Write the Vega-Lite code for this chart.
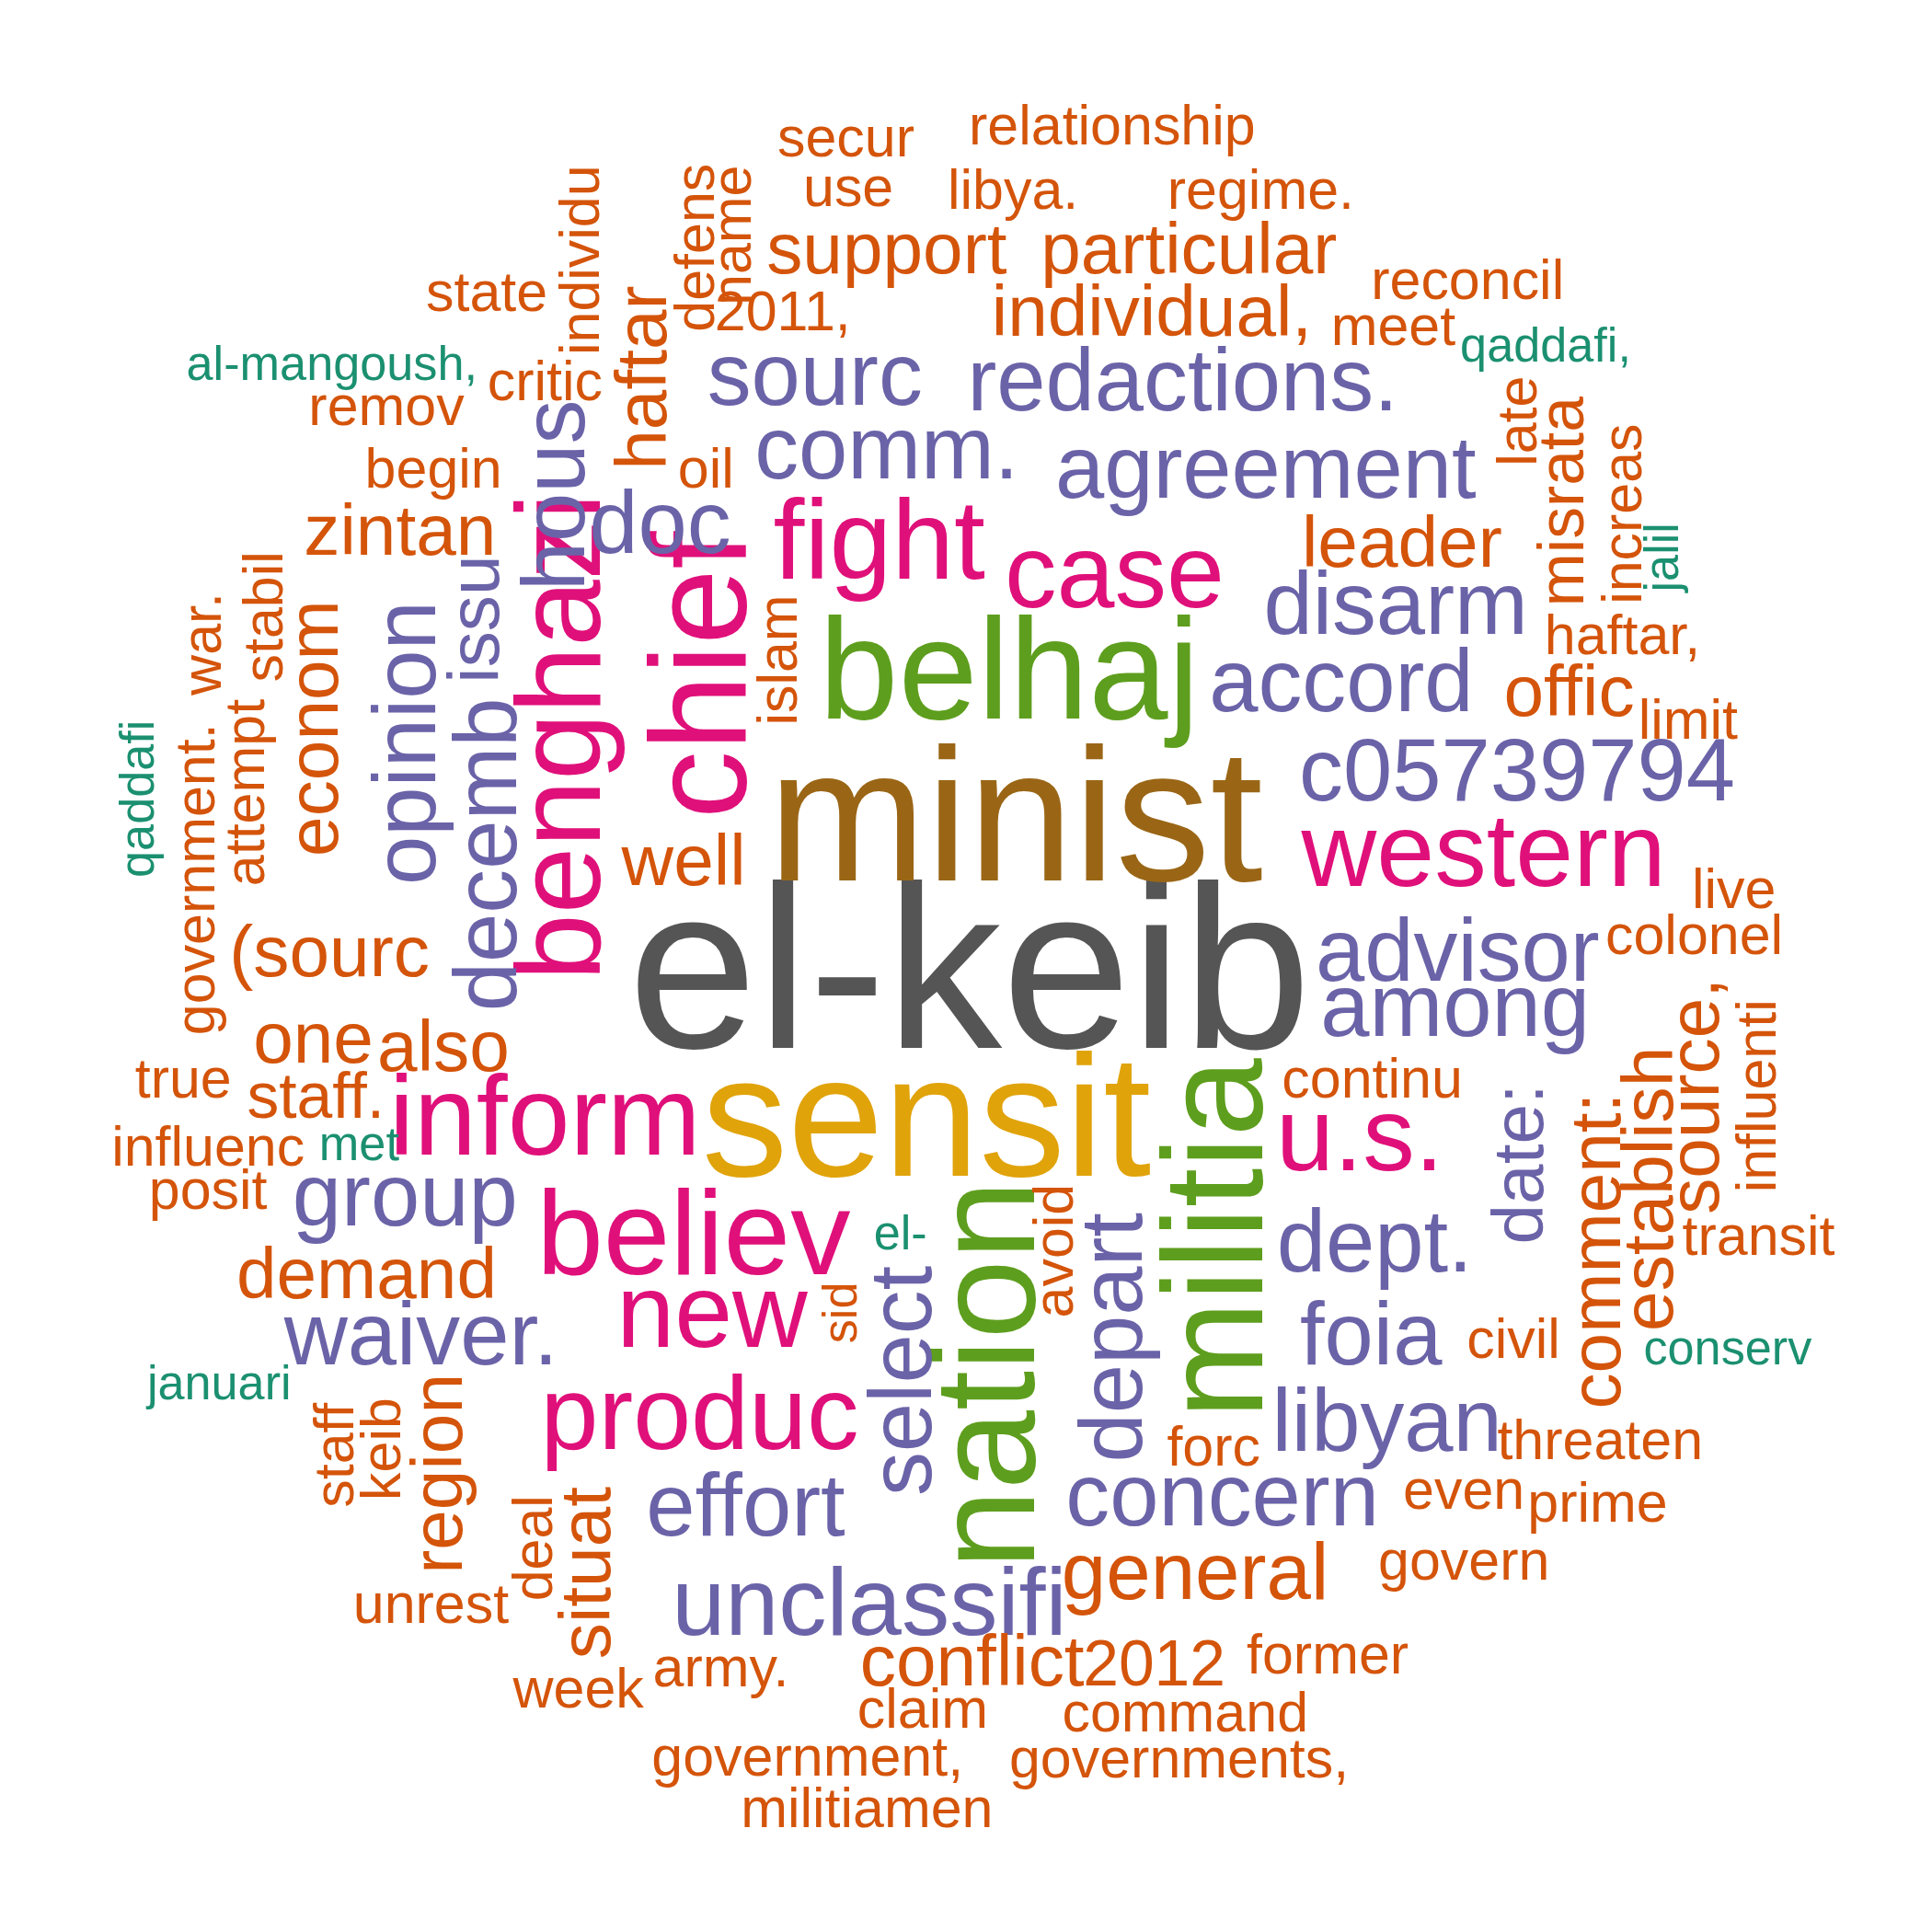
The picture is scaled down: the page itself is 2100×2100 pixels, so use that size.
{
  "$schema": "https://vega.github.io/schema/vega-lite/v6.json",
  "description": "Word cloud",
  "autosize": {"type": "fit", "contains": "padding"},
  "width": 2100,
  "height": 2100,
  "padding": 0,
  "background": "white",
  "config": {"view": {"stroke": null}},
  "data": {"values": [
    {"w":"el-keib","x":783,"y":790,"n":185,"g":"a","v":0},
    {"w":"minist","x":820,"y":665,"n":150,"g":"b","v":0},
    {"w":"sensit","x":748,"y":908,"n":120,"g":"c","v":0},
    {"w":"belhaj","x":815,"y":545,"n":105,"g":"d","v":0},
    {"w":"nation","x":800,"y":1110,"n":105,"g":"d","v":1},
    {"w":"militia","x":985,"y":1000,"n":100,"g":"d","v":1},
    {"w":"chief","x":570,"y":545,"n":85,"g":"e","v":1},
    {"w":"benghazi","x":455,"y":595,"n":75,"g":"e","v":1},
    {"w":"fight","x":710,"y":440,"n":70,"g":"e","v":0},
    {"w":"case","x":900,"y":465,"n":65,"g":"e","v":0},
    {"w":"western","x":1198,"y":690,"n":65,"g":"e","v":0},
    {"w":"inform","x":440,"y":905,"n":70,"g":"e","v":0},
    {"w":"believ","x":560,"y":1000,"n":75,"g":"e","v":0},
    {"w":"new","x":575,"y":1062,"n":65,"g":"e","v":0},
    {"w":"produc","x":565,"y":1145,"n":65,"g":"e","v":0},
    {"w":"u.s.","x":1098,"y":920,"n":65,"g":"e","v":0},
    {"w":"sourc","x":658,"y":305,"n":55,"g":"f","v":0},
    {"w":"redactions.","x":955,"y":310,"n":55,"g":"f","v":0},
    {"w":"comm.","x":716,"y":365,"n":55,"g":"f","v":0},
    {"w":"agreement","x":1022,"y":380,"n":55,"g":"f","v":0},
    {"w":"doc","x":533,"y":425,"n":55,"g":"f","v":0},
    {"w":"hous","x":450,"y":400,"n":55,"g":"f","v":1},
    {"w":"disarm","x":1127,"y":490,"n":55,"g":"f","v":0},
    {"w":"accord","x":1083,"y":553,"n":55,"g":"f","v":0},
    {"w":"c05739794","x":1225,"y":625,"n":55,"g":"f","v":0},
    {"w":"advisor","x":1177,"y":770,"n":55,"g":"f","v":0},
    {"w":"among","x":1175,"y":815,"n":55,"g":"f","v":0},
    {"w":"opinion","x":330,"y":600,"n":55,"g":"f","v":1},
    {"w":"decemb","x":395,"y":690,"n":55,"g":"f","v":1},
    {"w":"issu","x":385,"y":500,"n":45,"g":"f","v":1},
    {"w":"group","x":327,"y":968,"n":55,"g":"f","v":0},
    {"w":"waiver.","x":340,"y":1080,"n":55,"g":"f","v":0},
    {"w":"select","x":730,"y":1115,"n":55,"g":"f","v":1},
    {"w":"depart","x":900,"y":1080,"n":55,"g":"f","v":1},
    {"w":"dept.","x":1110,"y":1005,"n":55,"g":"f","v":0},
    {"w":"foia","x":1107,"y":1080,"n":55,"g":"f","v":0},
    {"w":"libyan","x":1120,"y":1150,"n":55,"g":"f","v":0},
    {"w":"concern","x":987,"y":1210,"n":55,"g":"f","v":0},
    {"w":"effort","x":602,"y":1218,"n":55,"g":"f","v":0},
    {"w":"unclassifi","x":702,"y":1297,"n":60,"g":"f","v":0},
    {"w":"date:","x":1228,"y":940,"n":45,"g":"f","v":1},
    {"w":"support","x":716,"y":203,"n":45,"g":"o","v":0},
    {"w":"particular","x":960,"y":203,"n":45,"g":"o","v":0},
    {"w":"individual,","x":930,"y":253,"n":45,"g":"o","v":0},
    {"w":"secur","x":683,"y":113,"n":35,"g":"o","v":0},
    {"w":"use","x":685,"y":153,"n":35,"g":"o","v":0},
    {"w":"relationship","x":898,"y":103,"n":35,"g":"o","v":0},
    {"w":"libya.","x":818,"y":155,"n":35,"g":"o","v":0},
    {"w":"regime.","x":1018,"y":155,"n":35,"g":"o","v":0},
    {"w":"state","x":393,"y":238,"n":35,"g":"o","v":0},
    {"w":"individu","x":470,"y":210,"n":35,"g":"o","v":1},
    {"w":"defens","x":563,"y":200,"n":35,"g":"o","v":1},
    {"w":"name","x":593,"y":190,"n":35,"g":"o","v":1},
    {"w":"2011,","x":632,"y":253,"n":35,"g":"o","v":0},
    {"w":"reconcil","x":1185,"y":228,"n":35,"g":"o","v":0},
    {"w":"meet","x":1125,"y":265,"n":35,"g":"o","v":0},
    {"w":"critic","x":440,"y":310,"n":35,"g":"o","v":0},
    {"w":"remov","x":312,"y":330,"n":35,"g":"o","v":0},
    {"w":"begin","x":350,"y":380,"n":35,"g":"o","v":0},
    {"w":"oil","x":570,"y":380,"n":35,"g":"o","v":0},
    {"w":"haftar","x":520,"y":305,"n":45,"g":"o","v":1},
    {"w":"zintan","x":323,"y":430,"n":45,"g":"o","v":0},
    {"w":"leader","x":1132,"y":440,"n":45,"g":"o","v":0},
    {"w":"econom","x":255,"y":588,"n":45,"g":"o","v":1},
    {"w":"offic","x":1267,"y":560,"n":45,"g":"o","v":0},
    {"w":"haftar,","x":1310,"y":515,"n":35,"g":"o","v":0},
    {"w":"war.","x":165,"y":520,"n":35,"g":"o","v":1},
    {"w":"stabil","x":215,"y":498,"n":35,"g":"o","v":1},
    {"w":"attempt","x":200,"y":640,"n":35,"g":"o","v":1},
    {"w":"islam","x":630,"y":533,"n":35,"g":"o","v":1},
    {"w":"well","x":552,"y":697,"n":45,"g":"o","v":0},
    {"w":"(sourc","x":266,"y":770,"n":45,"g":"o","v":0},
    {"w":"one","x":253,"y":840,"n":45,"g":"o","v":0},
    {"w":"also","x":358,"y":847,"n":45,"g":"o","v":0},
    {"w":"staff.","x":255,"y":887,"n":40,"g":"o","v":0},
    {"w":"true","x":148,"y":873,"n":35,"g":"o","v":0},
    {"w":"influenc","x":168,"y":928,"n":35,"g":"o","v":0},
    {"w":"posit","x":168,"y":963,"n":35,"g":"o","v":0},
    {"w":"demand","x":296,"y":1030,"n":45,"g":"o","v":0},
    {"w":"government.","x":160,"y":710,"n":35,"g":"o","v":1},
    {"w":"continu","x":1108,"y":873,"n":35,"g":"o","v":0},
    {"w":"limit","x":1363,"y":583,"n":35,"g":"o","v":0},
    {"w":"live","x":1400,"y":720,"n":35,"g":"o","v":0},
    {"w":"colonel","x":1368,"y":757,"n":35,"g":"o","v":0},
    {"w":"misrata","x":1263,"y":405,"n":40,"g":"o","v":1},
    {"w":"late","x":1227,"y":340,"n":35,"g":"o","v":1},
    {"w":"increas","x":1312,"y":415,"n":35,"g":"o","v":1},
    {"w":"source,","x":1370,"y":885,"n":45,"g":"o","v":1},
    {"w":"establish","x":1333,"y":960,"n":45,"g":"o","v":1},
    {"w":"comment:","x":1290,"y":1010,"n":45,"g":"o","v":1},
    {"w":"influenti","x":1420,"y":885,"n":35,"g":"o","v":1},
    {"w":"transit","x":1420,"y":1000,"n":35,"g":"o","v":0},
    {"w":"civil","x":1222,"y":1083,"n":35,"g":"o","v":0},
    {"w":"avoid","x":853,"y":1010,"n":35,"g":"o","v":1},
    {"w":"sid","x":680,"y":1060,"n":30,"g":"o","v":1},
    {"w":"threaten","x":1292,"y":1165,"n":35,"g":"o","v":0},
    {"w":"even","x":1182,"y":1205,"n":35,"g":"o","v":0},
    {"w":"prime","x":1290,"y":1215,"n":35,"g":"o","v":0},
    {"w":"govern","x":1182,"y":1262,"n":35,"g":"o","v":0},
    {"w":"forc","x":980,"y":1170,"n":35,"g":"o","v":0},
    {"w":"general","x":965,"y":1272,"n":50,"g":"o","v":0},
    {"w":"region","x":355,"y":1190,"n":45,"g":"o","v":1},
    {"w":"staff","x":272,"y":1175,"n":35,"g":"o","v":1},
    {"w":"keib","x":310,"y":1170,"n":35,"g":"o","v":1},
    {"w":"deal","x":432,"y":1250,"n":35,"g":"o","v":1},
    {"w":"situat","x":475,"y":1270,"n":45,"g":"o","v":1},
    {"w":"unrest","x":348,"y":1297,"n":35,"g":"o","v":0},
    {"w":"conflict","x":785,"y":1343,"n":45,"g":"o","v":0},
    {"w":"2012","x":932,"y":1345,"n":40,"g":"o","v":0},
    {"w":"former","x":1072,"y":1338,"n":35,"g":"o","v":0},
    {"w":"army.","x":582,"y":1348,"n":35,"g":"o","v":0},
    {"w":"week","x":467,"y":1365,"n":35,"g":"o","v":0},
    {"w":"claim","x":745,"y":1382,"n":35,"g":"o","v":0},
    {"w":"command","x":957,"y":1385,"n":35,"g":"o","v":0},
    {"w":"government,","x":652,"y":1420,"n":35,"g":"o","v":0},
    {"w":"governments,","x":952,"y":1422,"n":35,"g":"o","v":0},
    {"w":"militiamen","x":700,"y":1462,"n":35,"g":"o","v":0},
    {"w":"al-mangoush,","x":268,"y":295,"n":30,"g":"t","v":0},
    {"w":"qaddafi,","x":1248,"y":280,"n":30,"g":"t","v":0},
    {"w":"jalil","x":1343,"y":450,"n":30,"g":"t","v":1},
    {"w":"qaddafi","x":112,"y":645,"n":30,"g":"t","v":1},
    {"w":"met","x":290,"y":925,"n":30,"g":"t","v":0},
    {"w":"el-","x":727,"y":997,"n":30,"g":"t","v":0},
    {"w":"januari","x":177,"y":1118,"n":30,"g":"t","v":0},
    {"w":"conserv","x":1395,"y":1090,"n":30,"g":"t","v":0}
  ]},
  "mark": {"type": "text", "font": "Liberation Sans", "align": "center", "baseline": "middle"},
  "encoding": {
    "x": {"field": "x", "type": "quantitative", "axis": null, "scale": {"domain": [0, 1560]}},
    "y": {"field": "y", "type": "quantitative", "axis": null, "scale": {"domain": [0, 1560], "reverse": true}},
    "text": {"field": "w"},
    "size": {"field": "n", "type": "quantitative", "legend": null, "scale": {"type": "linear", "domain": [0, 85, 105, 120, 150, 185], "range": [0, 148, 155, 187, 206, 252]}},
    "angle": {"condition": {"test": "datum.v == 1", "value": 270}, "value": 0},
    "color": {"field": "g", "type": "nominal", "legend": null,
      "scale": {"domain": ["a","b","c","d","e","f","o","t"],
        "range": ["#555555","#9A6616","#E0A30A","#5E9E1E","#E0107A","#6A63A8","#D4540A","#1B9070"]}}
  }
}
